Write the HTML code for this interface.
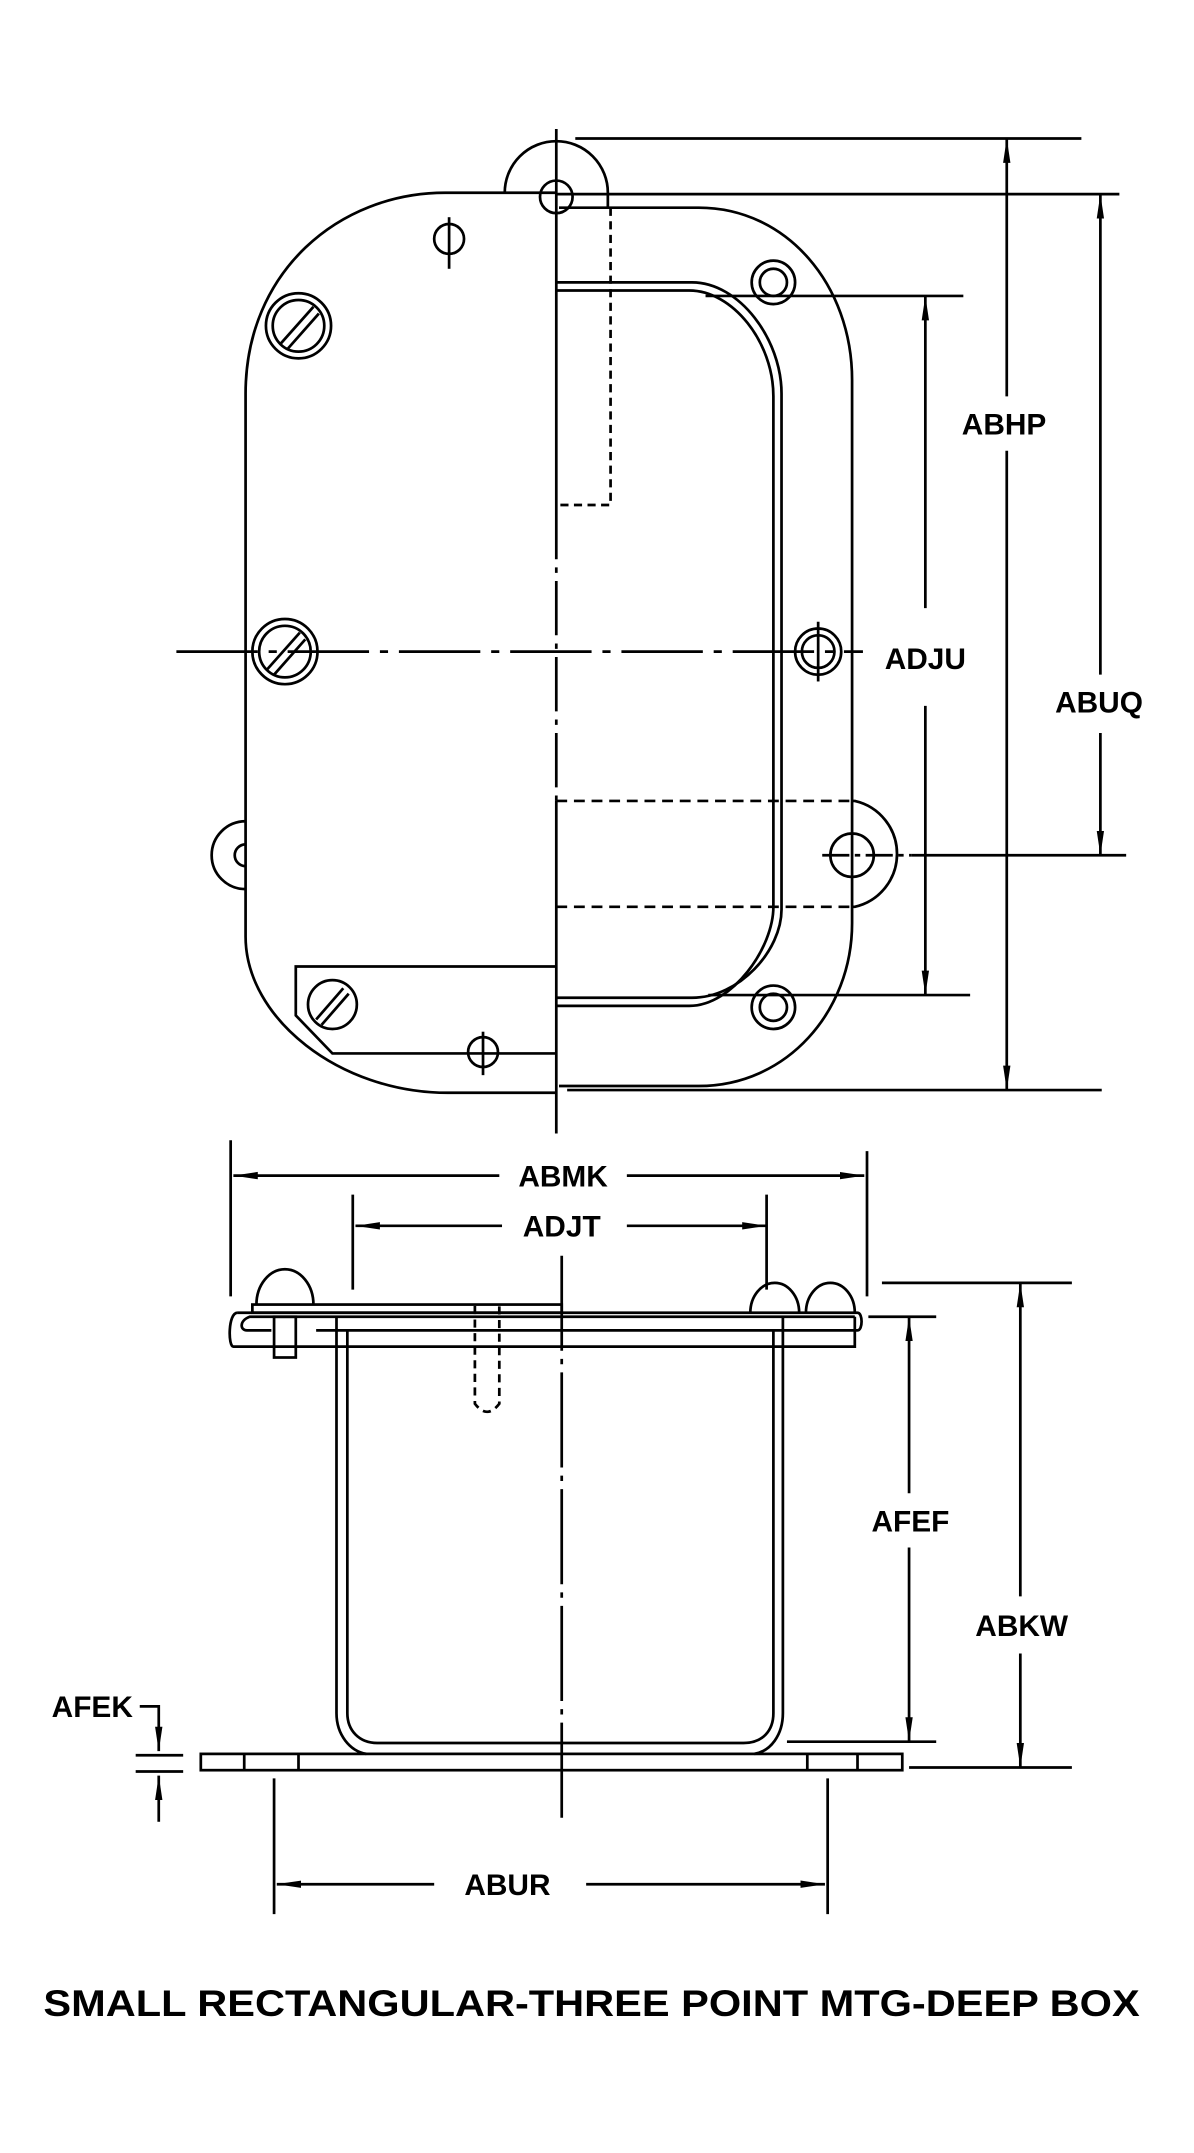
<!DOCTYPE html>
<html><head><meta charset="utf-8"><style>
html,body{margin:0;padding:0;background:#fff}
svg{display:block}
text{font-family:"Liberation Sans",sans-serif;font-weight:bold;fill:#000}
</style></head><body>
<svg width="1194" height="2153" viewBox="0 0 880 1586" preserveAspectRatio="none" xmlns="http://www.w3.org/2000/svg">
<defs>
<marker id="b" viewBox="0 0 20 10" refX="20" refY="5" markerWidth="18" markerHeight="9" orient="auto-start-reverse" markerUnits="userSpaceOnUse"><path d="M0,2 L20,5 L0,8 z" fill="#000"/></marker>
</defs>
<g fill="none" stroke="#000" stroke-width="2">
<!-- TOP VIEW -->
<line x1="410" y1="95" x2="410" y2="372"/>
<line x1="410" y1="372" x2="410" y2="590" stroke-dasharray="40,6,4,6"/>
<line x1="410" y1="590" x2="410" y2="835"/>
<path d="M372,142 A38,38 0 0 1 448,142 L448,153"/>
<circle cx="410" cy="145" r="12"/>
<path d="M410,142 L328,142 C250,142 181,200 181,290 L181,690 C181,750 250,805 330,805 L410,805"/>
<path d="M181,605 A25,25 0 0 0 181,655"/>
<path d="M181,622 A8,8 0 0 0 181,638"/>
<path d="M412,153 L515,153 C580,153 628,210 628,280 L628,680 C628,745 580,800 515,800 L412,800"/>
<path d="M410,208 L510,208 C545,208 576,250 576,290 L576,670 C576,700 545,735 510,735 L410,735"/>
<path d="M410,214 L508,214 C540,214 570,252 570,292 L570,668 C570,698 540,741 508,741 L410,741"/>
<path d="M450,153 L450,372 L410,372" stroke-dasharray="6,4"/>
<line x1="410" y1="590" x2="628" y2="590" stroke-dasharray="8,5"/>
<line x1="410" y1="668" x2="628" y2="668" stroke-dasharray="8,5"/>
<path d="M628,590 L630,590 A40,40 0 0 1 630,668 L628,668"/>
<circle cx="628" cy="630" r="16"/>
<line x1="606" y1="630" x2="672" y2="630" stroke-dasharray="20,4,4,4"/>
<circle cx="220" cy="240" r="24"/><circle cx="220" cy="240" r="19"/>
<line x1="207" y1="253" x2="231" y2="226"/><line x1="212" y1="257" x2="235" y2="231"/>
<circle cx="210" cy="480" r="24"/><circle cx="210" cy="480" r="19"/>
<line x1="197" y1="493" x2="221" y2="466"/><line x1="202" y1="497" x2="225" y2="471"/>
<circle cx="245" cy="740" r="18"/>
<line x1="233" y1="751" x2="253" y2="728"/><line x1="237" y1="755" x2="257" y2="732"/>
<circle cx="570" cy="208" r="16"/><circle cx="570" cy="208" r="10"/>
<circle cx="570" cy="742" r="16"/><circle cx="570" cy="742" r="10"/>
<circle cx="603" cy="480" r="17"/><circle cx="603" cy="480" r="12"/>
<line x1="603" y1="458" x2="603" y2="502"/>
<circle cx="331" cy="176" r="11"/><line x1="331" y1="160" x2="331" y2="198"/>
<circle cx="356" cy="775" r="11"/><line x1="356" y1="760" x2="356" y2="792"/>
<path d="M410,712 L218,712 L218,748 L245,776 L410,776"/>
<line x1="130" y1="480" x2="636" y2="480" stroke-dasharray="60,8,6,8"/>
<line x1="424" y1="102" x2="797" y2="102"/>
<line x1="410" y1="143" x2="825" y2="143"/>
<line x1="520" y1="218" x2="710" y2="218"/>
<line x1="522" y1="733" x2="715" y2="733"/>
<line x1="418" y1="803" x2="812" y2="803"/>
<line x1="672" y1="630" x2="830" y2="630"/>
<line x1="742" y1="102" x2="742" y2="292" marker-start="url(#b)"/>
<line x1="742" y1="332" x2="742" y2="803" marker-end="url(#b)"/>
<line x1="682" y1="218" x2="682" y2="448" marker-start="url(#b)"/>
<line x1="682" y1="520" x2="682" y2="733" marker-end="url(#b)"/>
<line x1="811" y1="143" x2="811" y2="497" marker-start="url(#b)"/>
<line x1="811" y1="540" x2="811" y2="630" marker-end="url(#b)"/>

<!-- BOTTOM VIEW -->
<line x1="414" y1="925" x2="414" y2="1345" stroke-dasharray="70,6,4,6"/>
<line x1="170" y1="840" x2="170" y2="955"/>
<line x1="639" y1="848" x2="639" y2="955"/>
<line x1="260" y1="880" x2="260" y2="950"/>
<line x1="565" y1="880" x2="565" y2="950"/>
<line x1="172" y1="866" x2="368" y2="866" marker-start="url(#b)"/>
<line x1="462" y1="866" x2="637" y2="866" marker-end="url(#b)"/>
<line x1="262" y1="903" x2="370" y2="903" marker-start="url(#b)"/>
<line x1="462" y1="903" x2="565" y2="903" marker-end="url(#b)"/>
<rect x="186" y="961" width="228" height="6"/>
<path d="M175,967 L632,967 C636,967 636,980 632,980 L630,980"/>
<path d="M175,967 C168,967 168,992 172,992 L630,992 L630,970"/>
<path d="M233,980 L630,980"/>
<path d="M200,980 L182,980 C177,980 176,973 184,970 L630,970"/>
<rect x="202" y="970" width="16" height="30"/>
<path d="M189,961 A21,26 0 0 1 231,961"/>
<path d="M553,967 A18,22 0 0 1 589,967 M594,967 A18,22 0 0 1 630,967"/>
<path d="M350,962 L350,1034 Q359,1046 368,1034 L368,962" stroke-dasharray="6,4"/>
<path d="M248,970 L248,1262 C248,1278 258,1290 270,1292"/>
<path d="M256,980 L256,1262 C256,1275 265,1284 278,1284 L548,1284 C562,1284 570,1275 570,1262 L570,980"/>
<path d="M577,970 L577,1262 C577,1278 568,1290 556,1292"/>
<rect x="148" y="1292" width="517" height="12"/>
<line x1="180" y1="1292" x2="180" y2="1304"/><line x1="220" y1="1292" x2="220" y2="1304"/>
<line x1="595" y1="1292" x2="595" y2="1304"/><line x1="632" y1="1292" x2="632" y2="1304"/>
<line x1="640" y1="970" x2="690" y2="970"/>
<line x1="580" y1="1283" x2="690" y2="1283"/>
<line x1="650" y1="945" x2="790" y2="945"/>
<line x1="670" y1="1302" x2="790" y2="1302"/>
<line x1="670" y1="970" x2="670" y2="1100" marker-start="url(#b)"/>
<line x1="670" y1="1140" x2="670" y2="1283" marker-end="url(#b)"/>
<line x1="752" y1="945" x2="752" y2="1176" marker-start="url(#b)"/>
<line x1="752" y1="1218" x2="752" y2="1302" marker-end="url(#b)"/>
<path d="M103,1257 L117,1257 L117,1290" marker-end="url(#b)"/>
<line x1="100" y1="1293" x2="135" y2="1293"/>
<line x1="100" y1="1305" x2="135" y2="1305"/>
<line x1="117" y1="1342" x2="117" y2="1308" marker-end="url(#b)"/>
<line x1="202" y1="1310" x2="202" y2="1410"/>
<line x1="610" y1="1310" x2="610" y2="1410"/>
<line x1="204" y1="1388" x2="320" y2="1388" marker-start="url(#b)"/>
<line x1="432" y1="1388" x2="608" y2="1388" marker-end="url(#b)"/>
</g>
<g font-size="22" text-anchor="middle">
<text x="740" y="320">ABHP</text>
<text x="682" y="493">ADJU</text>
<text x="810" y="525">ABUQ</text>
<text x="415" y="874">ABMK</text>
<text x="414" y="911">ADJT</text>
<text x="671" y="1128">AFEF</text>
<text x="753" y="1205">ABKW</text>
<text x="68" y="1265">AFEK</text>
<text x="374" y="1396">ABUR</text>
</g>
<text x="32" y="1485" font-size="27" textLength="808" lengthAdjust="spacingAndGlyphs">SMALL RECTANGULAR-THREE POINT MTG-DEEP BOX</text>
</svg>
</body></html>
